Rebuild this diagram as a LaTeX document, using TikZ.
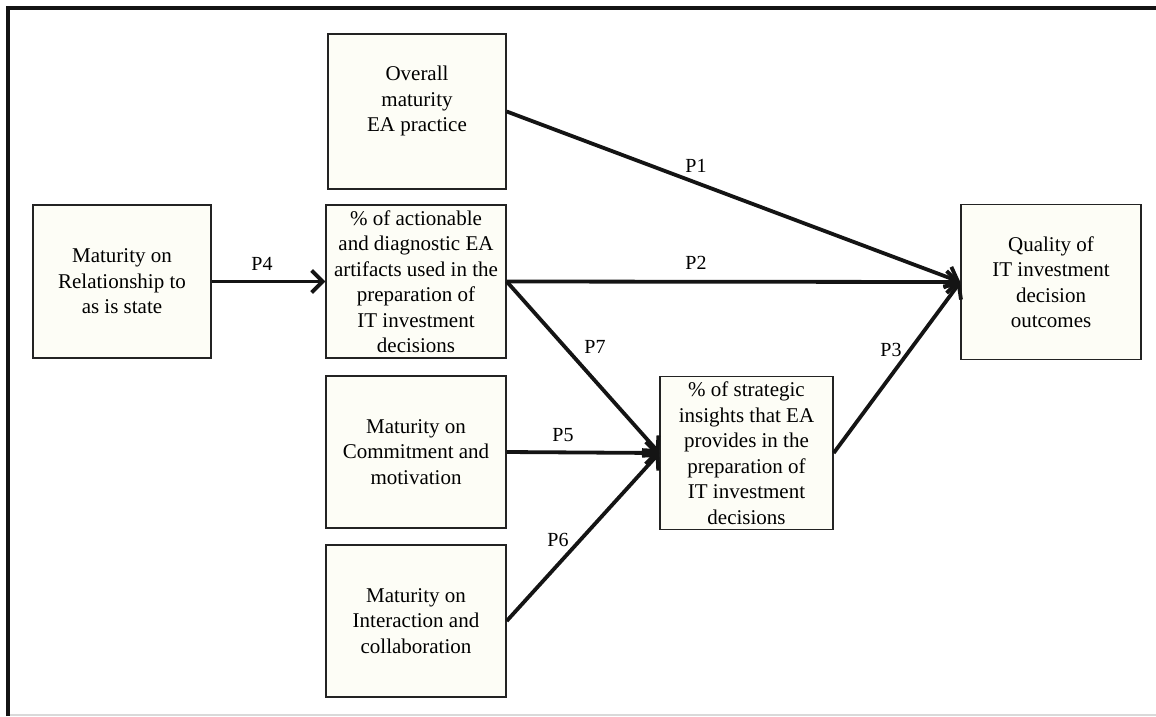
\documentclass[tikz,border=0pt]{standalone}
\usepackage{fontspec}
\setmainfont{Liberation Serif}
\usetikzlibrary{arrows.meta}
\definecolor{boxfill}{RGB}{253,253,246}
\definecolor{edgec}{RGB}{35,35,35}
\definecolor{linkc}{RGB}{20,20,20}
\begin{document}
\begin{tikzpicture}[x=1pt,y=-1pt,
  box/.style={draw=edgec, line width=1.4pt, fill=boxfill, align=center,
    font=\fontsize{21}{25.5}\selectfont, inner sep=0pt},
  link/.style={line width=3.8pt, draw=linkc,
    -{Straight Barb[length=11pt,width=22pt,line width=3.8pt]}},
  plab/.style={font=\fontsize{20}{24}\selectfont, inner sep=0pt}]
\useasboundingbox (0,0) rectangle (1156,716);
\fill[white] (0,0) rectangle (1156,716);
% frame
\draw[line width=4pt, linkc] (8,716) -- (8,8) -- (1156,8);
\draw[line width=1.5pt, black!15] (10,715) -- (1156,715);
% boxes
\node[box, minimum width=178pt, minimum height=155pt] (ov) at (417,111.5)
  {Overall\\maturity\\EA practice\\ \mbox{}};
\node[box, minimum width=180pt, minimum height=153pt] (act) at (416,281.5)
  {\% of actionable\\and diagnostic EA\\artifacts used in the\\preparation of\\IT investment\\decisions};
\node[box, minimum width=178pt, minimum height=153pt] (rel) at (122,281.5)
  {Maturity on\\Relationship to\\as is state};
\node[box, minimum width=180pt, minimum height=152pt] (com) at (416,452)
  {Maturity on\\Commitment and\\motivation};
\node[box, minimum width=180pt, minimum height=152pt] (int) at (416,621)
  {Maturity on\\Interaction and\\collaboration};
\node[box, minimum width=173pt, minimum height=153pt] (str) at (746.5,453)
  {\% of strategic\\insights that EA\\provides in the\\preparation of\\IT investment\\decisions};
\node[box, minimum width=180pt, minimum height=155pt] (qual) at (1051,282)
  {Quality of\\IT investment\\decision\\outcomes};
% links
\draw[link] (ov.east) -- (qual.west);
\draw[link] (act.east) -- (qual.west);
\draw[link] (str.east) -- (qual.west);
\draw[link] (rel.east) -- (act.west);
\draw[link] (com.east) -- (str.west);
\draw[link] (int.east) -- (str.west);
\draw[link] (act.east) -- (str.west);
% labels
\node[plab] (p1) at (696,166) {P1};
\node[plab] (p2) at (696,263) {P2};
\node[plab] (p3) at (891,350) {P3};
\node[plab] (p4) at (262,264) {P4};
\node[plab] (p5) at (563,435) {P5};
\node[plab] (p6) at (558,540) {P6};
\node[plab] (p7) at (595,347) {P7};
\end{tikzpicture}
\end{document}
